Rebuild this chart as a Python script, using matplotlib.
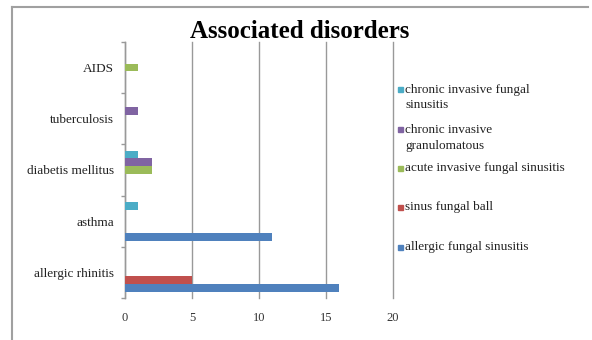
import matplotlib
matplotlib.use("Agg")
import matplotlib.pyplot as plt
from matplotlib.lines import Line2D
from matplotlib.patches import Rectangle
import numpy as np

plt.rcParams["font.family"] = ["Liberation Serif", "DejaVu Serif"]

categories = ["allergic rhinitis", "asthma", "diabetis mellitus", "tuberculosis", "AIDS"]
series = [
    "allergic fungal sinusitis",
    "sinus fungal ball",
    "acute invasive fungal sinusitis",
    "chronic invasive granulomatous",
    "chronic invasive fungal sinusitis",
]
legend_labels = [
    "allergic fungal sinusitis",
    "sinus fungal ball",
    "acute invasive fungal sinusitis",
    "chronic invasive\ngranulomatous",
    "chronic invasive fungal\nsinusitis",
]
values = [
    [16, 11, 0, 0, 0],   # allergic fungal sinusitis
    [5, 0, 0, 0, 0],     # sinus fungal ball
    [0, 0, 2, 0, 1],     # acute invasive fungal sinusitis
    [0, 0, 2, 1, 0],     # chronic invasive granulomatous
    [0, 1, 1, 0, 0],     # chronic invasive fungal sinusitis
]
colors = ["#4F81BD", "#C0504D", "#9BBB59", "#8064A2", "#4BACC6"]
xticks = [0, 5, 10, 15, 20]

W, H = 592, 340
fig = plt.figure(figsize=(W / 100, H / 100), dpi=100)
ax = fig.add_axes([125 / W, 1 - 298 / H, 268 / W, 256 / H])

n = len(series)
h = 1.0 / (n + 1.6)
y = np.arange(len(categories))
for i, (name, vals, c) in enumerate(zip(series, values, colors)):
    ax.barh(y + (i - (n - 1) / 2) * h, vals, height=h, color=c, label=name, zorder=3)

ax.set_xlim(0, 20)
ax.set_ylim(-0.5, len(categories) - 0.5)
ax.set_xticks(xticks)
ax.set_yticks(y)
ax.set_yticklabels(categories)
ax.set_yticks(np.arange(-0.5, len(categories)), minor=True)
ax.tick_params(axis="y", which="major", length=0, pad=8, labelsize=9.5, colors="#222222")
ax.tick_params(axis="y", which="minor", length=3, color="#999999", width=1)
ax.tick_params(axis="x", length=0, pad=10, labelsize=9, colors="#333333")
ax.grid(axis="x", color="#999999", linewidth=1, zorder=0)
for gl in ax.get_xgridlines():
    gl.set_clip_on(False)
for s in ["top", "right", "bottom"]:
    ax.spines[s].set_visible(False)
ax.spines["left"].set_color("#999999")
ax.spines["left"].set_linewidth(1)

fig.text(300 / W, 1 - 32 / H, "Associated disorders", ha="center", va="center",
         fontsize=18, fontweight="bold")

# legend, laid out like the Excel original (marker level with first text line)
leg_y = [247, 207, 168, 130, 90]
for lab, c, yy in zip(legend_labels, colors, leg_y):
    fig.patches.append(Rectangle((398 / W, 1 - (yy + 2.5) / H), 5 / W, 5 / H,
                                 transform=fig.transFigure, color=c))
    for k, ln in enumerate(lab.split("\n")):
        fig.text(405 / W, 1 - (yy + k * 15.5) / H, ln, ha="left", va="center",
                 fontsize=9.5, color="#222222")

# chart border (top and left visible)
fig.add_artist(Line2D([12 / W, 588 / W], [1 - 6.5 / H, 1 - 6.5 / H], color="#a0a0a0", lw=1.5))
fig.add_artist(Line2D([12 / W, 12 / W], [1 - 6.5 / H, 0], color="#a0a0a0", lw=1.5))

fig.savefig("out.png", dpi=100)
